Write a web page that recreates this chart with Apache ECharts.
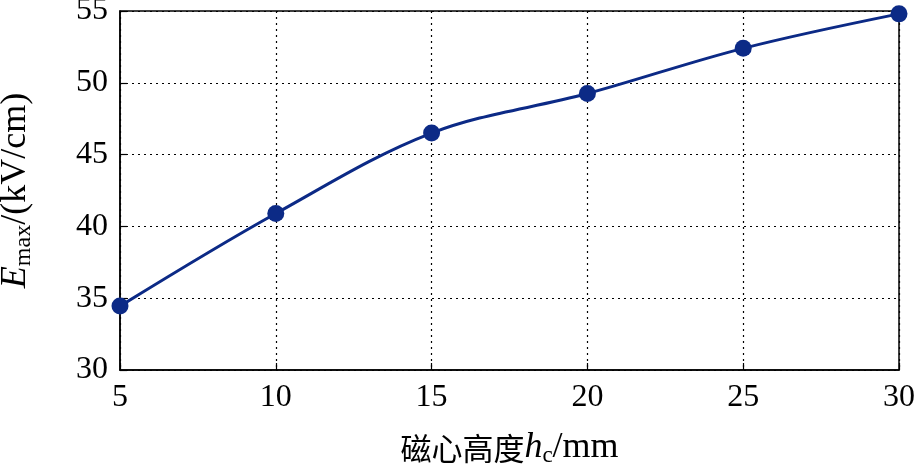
<!DOCTYPE html>
<html><head><meta charset="utf-8">
<script src="https://cdn.jsdelivr.net/npm/echarts@6/dist/echarts.min.js"></script>
<style>html,body{margin:0;padding:0;background:#fff}#c{width:915px;height:469px}</style>
</head><body><div id="c"></div>
<script>
const xValues = [5, 10, 15, 20, 25, 30];
const yValues = [34.45, 40.9, 46.5, 49.25, 52.4, 54.8];
const xTicks = [5, 10, 15, 20, 25, 30];
const yTicks = [30, 35, 40, 45, 50, 55];

const chart = echarts.init(document.getElementById('c'));
const serif = '"Liberation Serif", "Times New Roman", serif';
const cjk = '"Noto Sans CJK SC", serif';
chart.setOption({
  animation: false,
  grid: {left: 120, right: 16, top: 11, bottom: 99, containLabel: false, outerBoundsMode: 'none',
         show: true, borderColor: '#000', borderWidth: 1.5},
  xAxis: {
    type: 'value', min: 5, max: 30, interval: 5,
    axisLine: {lineStyle: {color: '#000', width: 1.5}},
    axisTick: {inside: true, length: 7, lineStyle: {color: '#000', width: 1.2}},
    axisLabel: {color: '#000', fontFamily: serif, fontSize: 32, margin: 12},
    splitLine: {show: true, lineStyle: {color: '#000', type: [2, 4], width: 1.2}},
    name: '{a|磁心高度}{i|h}{s|c}{b|/mm}',
    nameLocation: 'middle', nameGap: 59,
    nameTextStyle: {
      rich: {
        a: {fontFamily: cjk, fontSize: 31, color: '#000'},
        b: {fontFamily: serif, fontSize: 36, color: '#000'},
        i: {fontFamily: serif, fontStyle: 'italic', fontSize: 36, color: '#000'},
        s: {fontFamily: serif, fontSize: 23, color: '#000', verticalAlign: 'bottom', padding: [15, 0, 0, 0]}
      }
    }
  },
  yAxis: {
    type: 'value', min: 30, max: 55, interval: 5,
    axisLine: {lineStyle: {color: '#000', width: 1.5}},
    axisTick: {inside: true, length: 7, lineStyle: {color: '#000', width: 1.2}},
    axisLabel: {color: '#000', fontFamily: serif, fontSize: 32, margin: 12},
    splitLine: {show: true, lineStyle: {color: '#000', type: [2, 4], width: 1.2}},
    name: '{i|E}{s|max}{a|/(kV/cm)}',
    nameLocation: 'middle', nameGap: 84,
    nameTextStyle: {
      rich: {
        a: {fontFamily: serif, fontSize: 36, color: '#000'},
        i: {fontFamily: serif, fontStyle: 'italic', fontSize: 36, color: '#000'},
        s: {fontFamily: serif, fontSize: 24, color: '#000', verticalAlign: 'bottom', padding: [16, 0, 0, 0]}
      }
    }
  },
  series: [{
    type: 'line', smooth: 0.35,
    data: xValues.map((x, i) => [x, yValues[i]]),
    symbol: 'circle', symbolSize: 17,
    lineStyle: {color: '#0c2a86', width: 3},
    itemStyle: {color: '#0c2a86'}
  }]
});
</script></body></html>
